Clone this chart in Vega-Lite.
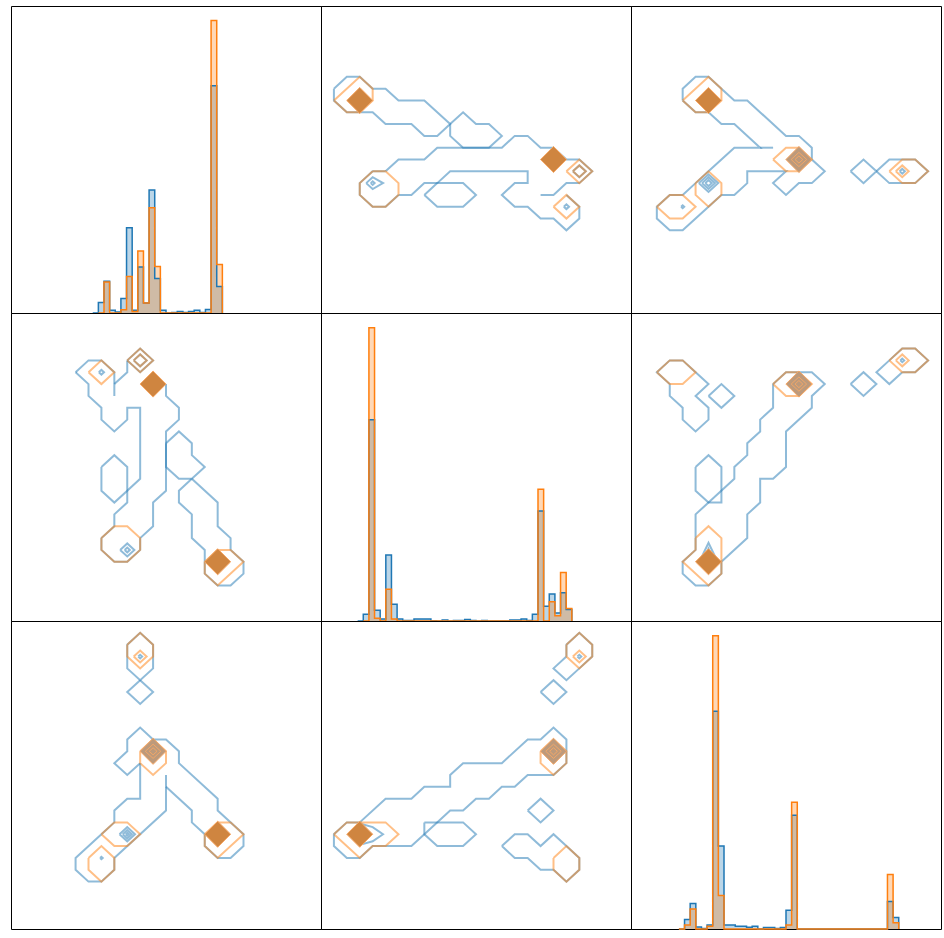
{
"$schema": "https://vega.github.io/schema/vega-lite/v6.json",
"background": "white",
"padding": {"left": 10, "top": 5, "right": 0, "bottom": 0},
"bounds": "flush",
"config": {"view": {"stroke": "black", "strokeWidth": 1}},
"datasets": {
"hist": [
{"v":"1","c":"b","b":12,"n":0},{"v":"1","c":"b","b":13,"n":3.6},{"v":"1","c":"b","b":14,"n":10.9},{"v":"1","c":"b","b":15,"n":0.9},{"v":"1","c":"b","b":16,"n":0.3},{"v":"1","c":"b","b":17,"n":5.0},{"v":"1","c":"b","b":18,"n":29.2},{"v":"1","c":"b","b":19,"n":0.9},{"v":"1","c":"b","b":20,"n":15.7},{"v":"1","c":"b","b":21,"n":3.4},{"v":"1","c":"b","b":22,"n":42.1},{"v":"1","c":"b","b":23,"n":11.8},{"v":"1","c":"b","b":24,"n":0.9},{"v":"1","c":"b","b":25,"n":0},{"v":"1","c":"b","b":26,"n":0.2},{"v":"1","c":"b","b":27,"n":0.5},{"v":"1","c":"b","b":28,"n":0.2},{"v":"1","c":"b","b":29,"n":0.5},{"v":"1","c":"b","b":30,"n":0.9},{"v":"1","c":"b","b":31,"n":0.2},{"v":"1","c":"b","b":32,"n":1.2},{"v":"1","c":"b","b":33,"n":77.7},{"v":"1","c":"b","b":34,"n":9.1},{"v":"1","c":"b","b":35,"n":0},
{"v":"1","c":"o","b":13,"n":0},{"v":"1","c":"o","b":14,"n":10.6},{"v":"1","c":"o","b":15,"n":0},{"v":"1","c":"o","b":17,"n":1.1},{"v":"1","c":"o","b":18,"n":12.5},{"v":"1","c":"o","b":19,"n":0.5},{"v":"1","c":"o","b":20,"n":21.2},{"v":"1","c":"o","b":21,"n":3.4},{"v":"1","c":"o","b":22,"n":36.0},{"v":"1","c":"o","b":23,"n":15.9},{"v":"1","c":"o","b":24,"n":0},{"v":"1","c":"o","b":33,"n":100},{"v":"1","c":"o","b":34,"n":16.6},{"v":"1","c":"o","b":35,"n":0},
{"v":"2","c":"b","b":4,"n":0},{"v":"2","c":"b","b":5,"n":2.3},{"v":"2","c":"b","b":6,"n":68.6},{"v":"2","c":"b","b":7,"n":3.7},{"v":"2","c":"b","b":8,"n":0.7},{"v":"2","c":"b","b":9,"n":22.5},{"v":"2","c":"b","b":10,"n":5.7},{"v":"2","c":"b","b":11,"n":0.7},{"v":"2","c":"b","b":12,"n":0.2},{"v":"2","c":"b","b":14,"n":0.7},{"v":"2","c":"b","b":17,"n":0.1},{"v":"2","c":"b","b":18,"n":0},{"v":"2","c":"b","b":19,"n":0.3},{"v":"2","c":"b","b":20,"n":0},{"v":"2","c":"b","b":21,"n":0.2},{"v":"2","c":"b","b":23,"n":0.5},{"v":"2","c":"b","b":24,"n":0.2},{"v":"2","c":"b","b":25,"n":0},{"v":"2","c":"b","b":26,"n":0.2},{"v":"2","c":"b","b":27,"n":0},{"v":"2","c":"b","b":31,"n":0.3},{"v":"2","c":"b","b":33,"n":0.7},{"v":"2","c":"b","b":34,"n":0.2},{"v":"2","c":"b","b":35,"n":2.3},{"v":"2","c":"b","b":36,"n":37.5},{"v":"2","c":"b","b":37,"n":5.0},{"v":"2","c":"b","b":38,"n":9.2},{"v":"2","c":"b","b":39,"n":2.7},{"v":"2","c":"b","b":40,"n":9.6},{"v":"2","c":"b","b":41,"n":3.9},{"v":"2","c":"b","b":42,"n":0},
{"v":"2","c":"o","b":5,"n":0},{"v":"2","c":"o","b":6,"n":100},{"v":"2","c":"o","b":7,"n":0.9},{"v":"2","c":"o","b":8,"n":0},{"v":"2","c":"o","b":9,"n":10.8},{"v":"2","c":"o","b":10,"n":0.7},{"v":"2","c":"o","b":11,"n":0},{"v":"2","c":"o","b":36,"n":44.9},{"v":"2","c":"o","b":37,"n":0},{"v":"2","c":"o","b":38,"n":6.6},{"v":"2","c":"o","b":39,"n":1.8},{"v":"2","c":"o","b":40,"n":16.5},{"v":"2","c":"o","b":41,"n":4.3},{"v":"2","c":"o","b":42,"n":0},
{"v":"3","c":"b","b":6,"n":0},{"v":"3","c":"b","b":7,"n":3.2},{"v":"3","c":"b","b":8,"n":8.7},{"v":"3","c":"b","b":9,"n":0.7},{"v":"3","c":"b","b":10,"n":0.2},{"v":"3","c":"b","b":11,"n":1.4},{"v":"3","c":"b","b":12,"n":74.2},{"v":"3","c":"b","b":13,"n":28.3},{"v":"3","c":"b","b":14,"n":1.4},{"v":"3","c":"b","b":16,"n":0.9},{"v":"3","c":"b","b":18,"n":0.6},{"v":"3","c":"b","b":19,"n":0.9},{"v":"3","c":"b","b":20,"n":0},{"v":"3","c":"b","b":21,"n":0.5},{"v":"3","c":"b","b":23,"n":0.2},{"v":"3","c":"b","b":24,"n":0.5},{"v":"3","c":"b","b":25,"n":6.4},{"v":"3","c":"b","b":26,"n":38.8},{"v":"3","c":"b","b":27,"n":0},{"v":"3","c":"b","b":43,"n":9.4},{"v":"3","c":"b","b":44,"n":3.9},{"v":"3","c":"b","b":45,"n":0},
{"v":"3","c":"o","b":6,"n":0},{"v":"3","c":"o","b":7,"n":1.4},{"v":"3","c":"o","b":8,"n":6.8},{"v":"3","c":"o","b":9,"n":0},{"v":"3","c":"o","b":11,"n":0.9},{"v":"3","c":"o","b":12,"n":100},{"v":"3","c":"o","b":13,"n":11.4},{"v":"3","c":"o","b":14,"n":0},{"v":"3","c":"o","b":25,"n":1.4},{"v":"3","c":"o","b":26,"n":43.2},{"v":"3","c":"o","b":27,"n":0},{"v":"3","c":"o","b":43,"n":18.6},{"v":"3","c":"o","b":44,"n":2.1},{"v":"3","c":"o","b":45,"n":0}
],
"peaks": [
{"p":"12","k":"dense","x":3,"y":8},{"p":"12","k":"dense","x":18,"y":13},
{"p":"13","k":"dense","x":6,"y":8},{"p":"13","k":"ring","x":13,"y":13},
{"p":"21","k":"dense","x":11,"y":6},{"p":"21","k":"dense","x":16,"y":21},
{"p":"23","k":"ring","x":13,"y":6},{"p":"23","k":"dense","x":6,"y":21},
{"p":"31","k":"ring","x":11,"y":11},{"p":"31","k":"dense","x":16,"y":18},
{"p":"32","k":"dense","x":3,"y":18},{"p":"32","k":"ring","x":18,"y":11}
],
"rings": [
{"p":"13","g":1,"x":12.4,"y":13},{"p":"13","g":1,"x":13,"y":12.4},{"p":"13","g":1,"x":13.6,"y":13},{"p":"13","g":1,"x":13,"y":13.6},{"p":"13","g":1,"x":12.4,"y":13},
{"p":"13","g":2,"x":12.7,"y":13},{"p":"13","g":2,"x":13,"y":12.7},{"p":"13","g":2,"x":13.3,"y":13},{"p":"13","g":2,"x":13,"y":13.3},{"p":"13","g":2,"x":12.7,"y":13},
{"p":"23","g":1,"x":12.4,"y":6},{"p":"23","g":1,"x":13,"y":5.4},{"p":"23","g":1,"x":13.6,"y":6},{"p":"23","g":1,"x":13,"y":6.6},{"p":"23","g":1,"x":12.4,"y":6},
{"p":"23","g":2,"x":12.7,"y":6},{"p":"23","g":2,"x":13,"y":5.7},{"p":"23","g":2,"x":13.3,"y":6},{"p":"23","g":2,"x":13,"y":6.3},{"p":"23","g":2,"x":12.7,"y":6},
{"p":"31","g":1,"x":10.4,"y":11},{"p":"31","g":1,"x":11,"y":10.4},{"p":"31","g":1,"x":11.6,"y":11},{"p":"31","g":1,"x":11,"y":11.6},{"p":"31","g":1,"x":10.4,"y":11},
{"p":"31","g":2,"x":10.7,"y":11},{"p":"31","g":2,"x":11,"y":10.7},{"p":"31","g":2,"x":11.3,"y":11},{"p":"31","g":2,"x":11,"y":11.3},{"p":"31","g":2,"x":10.7,"y":11},
{"p":"32","g":1,"x":17.4,"y":11},{"p":"32","g":1,"x":18,"y":10.4},{"p":"32","g":1,"x":18.6,"y":11},{"p":"32","g":1,"x":18,"y":11.6},{"p":"32","g":1,"x":17.4,"y":11},
{"p":"32","g":2,"x":17.7,"y":11},{"p":"32","g":2,"x":18,"y":10.7},{"p":"32","g":2,"x":18.3,"y":11},{"p":"32","g":2,"x":18,"y":11.3},{"p":"32","g":2,"x":17.7,"y":11}
],
"cont": [
{"p":"12","c":"b","g":1,"x":1,"y":7},{"p":"12","c":"b","g":1,"x":2,"y":6},{"p":"12","c":"b","g":1,"x":3,"y":6},{"p":"12","c":"b","g":1,"x":4,"y":7},{"p":"12","c":"b","g":1,"x":5,"y":7},{"p":"12","c":"b","g":1,"x":6,"y":8},{"p":"12","c":"b","g":1,"x":8,"y":8},{"p":"12","c":"b","g":1,"x":10,"y":10},{"p":"12","c":"b","g":1,"x":9,"y":11},{"p":"12","c":"b","g":1,"x":8,"y":11},{"p":"12","c":"b","g":1,"x":7,"y":10},{"p":"12","c":"b","g":1,"x":5,"y":10},{"p":"12","c":"b","g":1,"x":4,"y":9},{"p":"12","c":"b","g":1,"x":2,"y":9},{"p":"12","c":"b","g":1,"x":1,"y":8},{"p":"12","c":"b","g":1,"x":1,"y":7},
{"p":"12","c":"b","g":2,"x":10,"y":10},{"p":"12","c":"b","g":2,"x":11,"y":9},{"p":"12","c":"b","g":2,"x":12,"y":10},{"p":"12","c":"b","g":2,"x":13,"y":10},{"p":"12","c":"b","g":2,"x":14,"y":11},{"p":"12","c":"b","g":2,"x":13,"y":12},{"p":"12","c":"b","g":2,"x":11,"y":12},{"p":"12","c":"b","g":2,"x":10,"y":11},{"p":"12","c":"b","g":2,"x":10,"y":10},
{"p":"12","c":"b","g":3,"x":5,"y":14},{"p":"12","c":"b","g":3,"x":6,"y":13},{"p":"12","c":"b","g":3,"x":8,"y":13},{"p":"12","c":"b","g":3,"x":9,"y":12},{"p":"12","c":"b","g":3,"x":14,"y":12},{"p":"12","c":"b","g":3,"x":15,"y":11},{"p":"12","c":"b","g":3,"x":16,"y":11},{"p":"12","c":"b","g":3,"x":17,"y":12},{"p":"12","c":"b","g":3,"x":18,"y":12},{"p":"12","c":"b","g":3,"x":19,"y":13},{"p":"12","c":"b","g":3,"x":20,"y":13},{"p":"12","c":"b","g":3,"x":21,"y":14},{"p":"12","c":"b","g":3,"x":20,"y":15},{"p":"12","c":"b","g":3,"x":19,"y":15},{"p":"12","c":"b","g":3,"x":18,"y":16},{"p":"12","c":"b","g":3,"x":17,"y":16},
{"p":"12","c":"b","g":4,"x":6,"y":16},{"p":"12","c":"b","g":4,"x":7,"y":16},{"p":"12","c":"b","g":4,"x":8,"y":15},{"p":"12","c":"b","g":4,"x":9,"y":15},{"p":"12","c":"b","g":4,"x":10,"y":14},{"p":"12","c":"b","g":4,"x":16,"y":14},{"p":"12","c":"b","g":4,"x":16,"y":15},{"p":"12","c":"b","g":4,"x":15,"y":15},{"p":"12","c":"b","g":4,"x":14,"y":16},{"p":"12","c":"b","g":4,"x":15,"y":17},{"p":"12","c":"b","g":4,"x":16,"y":17},{"p":"12","c":"b","g":4,"x":17,"y":18},{"p":"12","c":"b","g":4,"x":18,"y":18},{"p":"12","c":"b","g":4,"x":19,"y":19},{"p":"12","c":"b","g":4,"x":20,"y":18},{"p":"12","c":"b","g":4,"x":20,"y":17},{"p":"12","c":"b","g":4,"x":19,"y":16},
{"p":"12","c":"b","g":5,"x":8,"y":16},{"p":"12","c":"b","g":5,"x":9,"y":15},{"p":"12","c":"b","g":5,"x":11,"y":15},{"p":"12","c":"b","g":5,"x":12,"y":16},{"p":"12","c":"b","g":5,"x":11,"y":17},{"p":"12","c":"b","g":5,"x":9,"y":17},{"p":"12","c":"b","g":5,"x":8,"y":16},
{"p":"12","c":"b","g":6,"x":6,"y":16},{"p":"12","c":"b","g":6,"x":5,"y":17},{"p":"12","c":"b","g":6,"x":4,"y":17},{"p":"12","c":"b","g":6,"x":3,"y":16},{"p":"12","c":"b","g":6,"x":3,"y":15},{"p":"12","c":"b","g":6,"x":4,"y":14},{"p":"12","c":"b","g":6,"x":5,"y":14},
{"p":"12","c":"b","g":7,"x":3.5,"y":15},{"p":"12","c":"b","g":7,"x":4,"y":14.5},{"p":"12","c":"b","g":7,"x":4.8,"y":15},{"p":"12","c":"b","g":7,"x":4,"y":15.5},{"p":"12","c":"b","g":7,"x":3.5,"y":15},
{"p":"12","c":"b","g":8,"x":3.85,"y":15},{"p":"12","c":"b","g":8,"x":4,"y":14.85},{"p":"12","c":"b","g":8,"x":4.15,"y":15},{"p":"12","c":"b","g":8,"x":4,"y":15.15},{"p":"12","c":"b","g":8,"x":3.85,"y":15},
{"p":"12","c":"b","g":9,"x":18.8,"y":17},{"p":"12","c":"b","g":9,"x":19,"y":16.8},{"p":"12","c":"b","g":9,"x":19.2,"y":17},{"p":"12","c":"b","g":9,"x":19,"y":17.2},{"p":"12","c":"b","g":9,"x":18.8,"y":17},
{"p":"12","c":"b","g":10,"x":19.5,"y":14},{"p":"12","c":"b","g":10,"x":20,"y":13.5},{"p":"12","c":"b","g":10,"x":20.5,"y":14},{"p":"12","c":"b","g":10,"x":20,"y":14.5},{"p":"12","c":"b","g":10,"x":19.5,"y":14},
{"p":"12","c":"o","g":11,"x":1,"y":8},{"p":"12","c":"o","g":11,"x":3,"y":6},{"p":"12","c":"o","g":11,"x":4,"y":7},{"p":"12","c":"o","g":11,"x":4,"y":8},{"p":"12","c":"o","g":11,"x":3,"y":9},{"p":"12","c":"o","g":11,"x":2,"y":9},{"p":"12","c":"o","g":11,"x":1,"y":8},
{"p":"12","c":"o","g":12,"x":4,"y":14},{"p":"12","c":"o","g":12,"x":5,"y":14},{"p":"12","c":"o","g":12,"x":6,"y":15},{"p":"12","c":"o","g":12,"x":6,"y":16},{"p":"12","c":"o","g":12,"x":5,"y":17},{"p":"12","c":"o","g":12,"x":4,"y":17},{"p":"12","c":"o","g":12,"x":3,"y":16},{"p":"12","c":"o","g":12,"x":3,"y":15},{"p":"12","c":"o","g":12,"x":4,"y":14},
{"p":"12","c":"o","g":13,"x":19,"y":14},{"p":"12","c":"o","g":13,"x":20,"y":13},{"p":"12","c":"o","g":13,"x":21,"y":14},{"p":"12","c":"o","g":13,"x":20,"y":15},{"p":"12","c":"o","g":13,"x":19,"y":14},
{"p":"12","c":"o","g":14,"x":19.5,"y":14},{"p":"12","c":"o","g":14,"x":20,"y":13.5},{"p":"12","c":"o","g":14,"x":20.5,"y":14},{"p":"12","c":"o","g":14,"x":20,"y":14.5},{"p":"12","c":"o","g":14,"x":19.5,"y":14},
{"p":"12","c":"o","g":15,"x":18,"y":17},{"p":"12","c":"o","g":15,"x":19,"y":16},{"p":"12","c":"o","g":15,"x":20,"y":17},{"p":"12","c":"o","g":15,"x":19,"y":18},{"p":"12","c":"o","g":15,"x":18,"y":17},

{"p":"13","c":"b","g":1,"x":4,"y":8},{"p":"13","c":"b","g":1,"x":4,"y":7},{"p":"13","c":"b","g":1,"x":5,"y":6},{"p":"13","c":"b","g":1,"x":6,"y":6},{"p":"13","c":"b","g":1,"x":7,"y":7},{"p":"13","c":"b","g":1,"x":8,"y":8},{"p":"13","c":"b","g":1,"x":9,"y":8},{"p":"13","c":"b","g":1,"x":12,"y":11},{"p":"13","c":"b","g":1,"x":13,"y":11},{"p":"13","c":"b","g":1,"x":14,"y":12},{"p":"13","c":"b","g":1,"x":14,"y":13},{"p":"13","c":"b","g":1,"x":15,"y":14},{"p":"13","c":"b","g":1,"x":14,"y":15},{"p":"13","c":"b","g":1,"x":13,"y":15},{"p":"13","c":"b","g":1,"x":12,"y":16},{"p":"13","c":"b","g":1,"x":11,"y":15},{"p":"13","c":"b","g":1,"x":12,"y":14},{"p":"13","c":"b","g":1,"x":9,"y":14},{"p":"13","c":"b","g":1,"x":9,"y":15},{"p":"13","c":"b","g":1,"x":8,"y":16},{"p":"13","c":"b","g":1,"x":7,"y":16},{"p":"13","c":"b","g":1,"x":6,"y":17},{"p":"13","c":"b","g":1,"x":4,"y":19},{"p":"13","c":"b","g":1,"x":3,"y":19},{"p":"13","c":"b","g":1,"x":2,"y":18},{"p":"13","c":"b","g":1,"x":2,"y":17},{"p":"13","c":"b","g":1,"x":3,"y":16},{"p":"13","c":"b","g":1,"x":4,"y":16},{"p":"13","c":"b","g":1,"x":5,"y":15},{"p":"13","c":"b","g":1,"x":6,"y":14},{"p":"13","c":"b","g":1,"x":8,"y":12},{"p":"13","c":"b","g":1,"x":10,"y":12},{"p":"13","c":"b","g":1,"x":8,"y":10},{"p":"13","c":"b","g":1,"x":7,"y":10},{"p":"13","c":"b","g":1,"x":6,"y":9},{"p":"13","c":"b","g":1,"x":5,"y":9},{"p":"13","c":"b","g":1,"x":4,"y":8},
{"p":"13","c":"b","g":2,"x":10,"y":12},{"p":"13","c":"b","g":2,"x":11,"y":12},
{"p":"13","c":"b","g":3,"x":17,"y":14},{"p":"13","c":"b","g":3,"x":18,"y":13},{"p":"13","c":"b","g":3,"x":19,"y":14},{"p":"13","c":"b","g":3,"x":18,"y":15},{"p":"13","c":"b","g":3,"x":17,"y":14},
{"p":"13","c":"b","g":4,"x":19,"y":14},{"p":"13","c":"b","g":4,"x":20,"y":13},{"p":"13","c":"b","g":4,"x":22,"y":13},{"p":"13","c":"b","g":4,"x":23,"y":14},{"p":"13","c":"b","g":4,"x":22,"y":15},{"p":"13","c":"b","g":4,"x":20,"y":15},{"p":"13","c":"b","g":4,"x":19,"y":14},
{"p":"13","c":"b","g":5,"x":5.25,"y":15},{"p":"13","c":"b","g":5,"x":6,"y":14.25},{"p":"13","c":"b","g":5,"x":6.75,"y":15},{"p":"13","c":"b","g":5,"x":6,"y":15.75},{"p":"13","c":"b","g":5,"x":5.25,"y":15},
{"p":"13","c":"b","g":6,"x":5.5,"y":15},{"p":"13","c":"b","g":6,"x":6,"y":14.5},{"p":"13","c":"b","g":6,"x":6.5,"y":15},{"p":"13","c":"b","g":6,"x":6,"y":15.5},{"p":"13","c":"b","g":6,"x":5.5,"y":15},
{"p":"13","c":"b","g":7,"x":5.75,"y":15},{"p":"13","c":"b","g":7,"x":6,"y":14.75},{"p":"13","c":"b","g":7,"x":6.25,"y":15},{"p":"13","c":"b","g":7,"x":6,"y":15.25},{"p":"13","c":"b","g":7,"x":5.75,"y":15},
{"p":"13","c":"b","g":9,"x":20.8,"y":14},{"p":"13","c":"b","g":9,"x":21,"y":13.8},{"p":"13","c":"b","g":9,"x":21.2,"y":14},{"p":"13","c":"b","g":9,"x":21,"y":14.2},{"p":"13","c":"b","g":9,"x":20.8,"y":14},
{"p":"13","c":"b","g":10,"x":3.88,"y":17},{"p":"13","c":"b","g":10,"x":4,"y":16.88},{"p":"13","c":"b","g":10,"x":4.12,"y":17},{"p":"13","c":"b","g":10,"x":4,"y":17.12},{"p":"13","c":"b","g":10,"x":3.88,"y":17},
{"p":"13","c":"o","g":11,"x":4,"y":8},{"p":"13","c":"o","g":11,"x":6,"y":6},{"p":"13","c":"o","g":11,"x":7,"y":7},{"p":"13","c":"o","g":11,"x":7,"y":8},{"p":"13","c":"o","g":11,"x":6,"y":9},{"p":"13","c":"o","g":11,"x":5,"y":9},{"p":"13","c":"o","g":11,"x":4,"y":8},
{"p":"13","c":"o","g":12,"x":11,"y":13},{"p":"13","c":"o","g":12,"x":12,"y":12},{"p":"13","c":"o","g":12,"x":13,"y":12},{"p":"13","c":"o","g":12,"x":14,"y":13},{"p":"13","c":"o","g":12,"x":13,"y":14},{"p":"13","c":"o","g":12,"x":12,"y":14},{"p":"13","c":"o","g":12,"x":11,"y":13},
{"p":"13","c":"o","g":13,"x":2,"y":17},{"p":"13","c":"o","g":13,"x":3,"y":16},{"p":"13","c":"o","g":13,"x":4,"y":16},{"p":"13","c":"o","g":13,"x":5,"y":17},{"p":"13","c":"o","g":13,"x":4,"y":18},{"p":"13","c":"o","g":13,"x":3,"y":18},{"p":"13","c":"o","g":13,"x":2,"y":17},
{"p":"13","c":"o","g":14,"x":5,"y":15},{"p":"13","c":"o","g":14,"x":6,"y":14},{"p":"13","c":"o","g":14,"x":7,"y":15},{"p":"13","c":"o","g":14,"x":7,"y":16},{"p":"13","c":"o","g":14,"x":6,"y":17},{"p":"13","c":"o","g":14,"x":5,"y":16},{"p":"13","c":"o","g":14,"x":5,"y":15},
{"p":"13","c":"o","g":15,"x":20,"y":14},{"p":"13","c":"o","g":15,"x":21,"y":13},{"p":"13","c":"o","g":15,"x":22,"y":13},{"p":"13","c":"o","g":15,"x":23,"y":14},{"p":"13","c":"o","g":15,"x":22,"y":15},{"p":"13","c":"o","g":15,"x":21,"y":15},{"p":"13","c":"o","g":15,"x":20,"y":14},
{"p":"13","c":"o","g":16,"x":20.5,"y":14},{"p":"13","c":"o","g":16,"x":21,"y":13.5},{"p":"13","c":"o","g":16,"x":21.5,"y":14},{"p":"13","c":"o","g":16,"x":21,"y":14.5},{"p":"13","c":"o","g":16,"x":20.5,"y":14},

{"p":"21","c":"b","g":1,"x":5,"y":5},{"p":"21","c":"b","g":1,"x":6,"y":4},{"p":"21","c":"b","g":1,"x":7,"y":4},{"p":"21","c":"b","g":1,"x":8,"y":5},{"p":"21","c":"b","g":1,"x":8,"y":7},
{"p":"21","c":"b","g":2,"x":8,"y":6},{"p":"21","c":"b","g":2,"x":9,"y":5},{"p":"21","c":"b","g":2,"x":9,"y":4},
{"p":"21","c":"b","g":3,"x":9,"y":4},{"p":"21","c":"b","g":3,"x":10,"y":3},{"p":"21","c":"b","g":3,"x":11,"y":4},{"p":"21","c":"b","g":3,"x":10,"y":5},{"p":"21","c":"b","g":3,"x":9,"y":4},
{"p":"21","c":"b","g":4,"x":5,"y":5},{"p":"21","c":"b","g":4,"x":6,"y":6},{"p":"21","c":"b","g":4,"x":6,"y":7},{"p":"21","c":"b","g":4,"x":7,"y":8},{"p":"21","c":"b","g":4,"x":7,"y":9},{"p":"21","c":"b","g":4,"x":8,"y":10},{"p":"21","c":"b","g":4,"x":9,"y":9},{"p":"21","c":"b","g":4,"x":9,"y":8},{"p":"21","c":"b","g":4,"x":10,"y":8},{"p":"21","c":"b","g":4,"x":10,"y":14},{"p":"21","c":"b","g":4,"x":9,"y":15},{"p":"21","c":"b","g":4,"x":9,"y":16},{"p":"21","c":"b","g":4,"x":8,"y":17},{"p":"21","c":"b","g":4,"x":8,"y":18},{"p":"21","c":"b","g":4,"x":7,"y":19},{"p":"21","c":"b","g":4,"x":7,"y":20},{"p":"21","c":"b","g":4,"x":8,"y":21},{"p":"21","c":"b","g":4,"x":9,"y":21},{"p":"21","c":"b","g":4,"x":10,"y":20},{"p":"21","c":"b","g":4,"x":10,"y":19},{"p":"21","c":"b","g":4,"x":11,"y":18},{"p":"21","c":"b","g":4,"x":11,"y":16},{"p":"21","c":"b","g":4,"x":12,"y":15},{"p":"21","c":"b","g":4,"x":12,"y":10},{"p":"21","c":"b","g":4,"x":13,"y":9},{"p":"21","c":"b","g":4,"x":13,"y":8},{"p":"21","c":"b","g":4,"x":12,"y":7},{"p":"21","c":"b","g":4,"x":12,"y":6},
{"p":"21","c":"b","g":5,"x":7,"y":13},{"p":"21","c":"b","g":5,"x":8,"y":12},{"p":"21","c":"b","g":5,"x":9,"y":13},{"p":"21","c":"b","g":5,"x":9,"y":15},{"p":"21","c":"b","g":5,"x":8,"y":16},{"p":"21","c":"b","g":5,"x":7,"y":15},{"p":"21","c":"b","g":5,"x":7,"y":13},
{"p":"21","c":"b","g":6,"x":12,"y":11},{"p":"21","c":"b","g":6,"x":13,"y":10},{"p":"21","c":"b","g":6,"x":14,"y":11},{"p":"21","c":"b","g":6,"x":14,"y":12},{"p":"21","c":"b","g":6,"x":15,"y":13},{"p":"21","c":"b","g":6,"x":14,"y":14},{"p":"21","c":"b","g":6,"x":13,"y":14},{"p":"21","c":"b","g":6,"x":12,"y":13},{"p":"21","c":"b","g":6,"x":12,"y":11},
{"p":"21","c":"b","g":7,"x":14,"y":14},{"p":"21","c":"b","g":7,"x":16,"y":16},{"p":"21","c":"b","g":7,"x":16,"y":18},{"p":"21","c":"b","g":7,"x":17,"y":19},{"p":"21","c":"b","g":7,"x":17,"y":20},{"p":"21","c":"b","g":7,"x":18,"y":21},{"p":"21","c":"b","g":7,"x":18,"y":22},{"p":"21","c":"b","g":7,"x":17,"y":23},{"p":"21","c":"b","g":7,"x":16,"y":23},{"p":"21","c":"b","g":7,"x":15,"y":22},{"p":"21","c":"b","g":7,"x":15,"y":20},{"p":"21","c":"b","g":7,"x":14,"y":19},{"p":"21","c":"b","g":7,"x":14,"y":17},{"p":"21","c":"b","g":7,"x":13,"y":16},{"p":"21","c":"b","g":7,"x":13,"y":15},{"p":"21","c":"b","g":7,"x":14,"y":14},
{"p":"21","c":"b","g":8,"x":8.45,"y":20},{"p":"21","c":"b","g":8,"x":9,"y":19.45},{"p":"21","c":"b","g":8,"x":9.55,"y":20},{"p":"21","c":"b","g":8,"x":9,"y":20.55},{"p":"21","c":"b","g":8,"x":8.45,"y":20},
{"p":"21","c":"b","g":9,"x":8.8,"y":20},{"p":"21","c":"b","g":9,"x":9,"y":19.8},{"p":"21","c":"b","g":9,"x":9.2,"y":20},{"p":"21","c":"b","g":9,"x":9,"y":20.2},{"p":"21","c":"b","g":9,"x":8.8,"y":20},
{"p":"21","c":"b","g":10,"x":6.8,"y":5},{"p":"21","c":"b","g":10,"x":7,"y":4.8},{"p":"21","c":"b","g":10,"x":7.2,"y":5},{"p":"21","c":"b","g":10,"x":7,"y":5.2},{"p":"21","c":"b","g":10,"x":6.8,"y":5},
{"p":"21","c":"b","g":11,"x":9.5,"y":4},{"p":"21","c":"b","g":11,"x":10,"y":3.5},{"p":"21","c":"b","g":11,"x":10.5,"y":4},{"p":"21","c":"b","g":11,"x":10,"y":4.5},{"p":"21","c":"b","g":11,"x":9.5,"y":4},
{"p":"21","c":"o","g":12,"x":6,"y":5},{"p":"21","c":"o","g":12,"x":7,"y":4},{"p":"21","c":"o","g":12,"x":8,"y":5},{"p":"21","c":"o","g":12,"x":7,"y":6},{"p":"21","c":"o","g":12,"x":6,"y":5},
{"p":"21","c":"o","g":13,"x":9,"y":4},{"p":"21","c":"o","g":13,"x":10,"y":3},{"p":"21","c":"o","g":13,"x":11,"y":4},{"p":"21","c":"o","g":13,"x":10,"y":5},{"p":"21","c":"o","g":13,"x":9,"y":4},
{"p":"21","c":"o","g":14,"x":9.5,"y":4},{"p":"21","c":"o","g":14,"x":10,"y":3.5},{"p":"21","c":"o","g":14,"x":10.5,"y":4},{"p":"21","c":"o","g":14,"x":10,"y":4.5},{"p":"21","c":"o","g":14,"x":9.5,"y":4},
{"p":"21","c":"o","g":15,"x":7,"y":19},{"p":"21","c":"o","g":15,"x":8,"y":18},{"p":"21","c":"o","g":15,"x":9,"y":18},{"p":"21","c":"o","g":15,"x":10,"y":19},{"p":"21","c":"o","g":15,"x":10,"y":20},{"p":"21","c":"o","g":15,"x":9,"y":21},{"p":"21","c":"o","g":15,"x":8,"y":21},{"p":"21","c":"o","g":15,"x":7,"y":20},{"p":"21","c":"o","g":15,"x":7,"y":19},
{"p":"21","c":"o","g":16,"x":15,"y":21},{"p":"21","c":"o","g":16,"x":16,"y":20},{"p":"21","c":"o","g":16,"x":17,"y":20},{"p":"21","c":"o","g":16,"x":18,"y":21},{"p":"21","c":"o","g":16,"x":16,"y":23},{"p":"21","c":"o","g":16,"x":15,"y":22},{"p":"21","c":"o","g":16,"x":15,"y":21},

{"p":"23","c":"b","g":1,"x":5,"y":5},{"p":"23","c":"b","g":1,"x":4,"y":4},{"p":"23","c":"b","g":1,"x":3,"y":4},{"p":"23","c":"b","g":1,"x":2,"y":5},{"p":"23","c":"b","g":1,"x":3,"y":6},{"p":"23","c":"b","g":1,"x":3,"y":7},{"p":"23","c":"b","g":1,"x":4,"y":8},{"p":"23","c":"b","g":1,"x":4,"y":9},{"p":"23","c":"b","g":1,"x":5,"y":10},{"p":"23","c":"b","g":1,"x":6,"y":9},{"p":"23","c":"b","g":1,"x":6,"y":8},{"p":"23","c":"b","g":1,"x":5,"y":7},{"p":"23","c":"b","g":1,"x":6,"y":6},{"p":"23","c":"b","g":1,"x":5,"y":5},
{"p":"23","c":"b","g":2,"x":6,"y":7},{"p":"23","c":"b","g":2,"x":7,"y":6},{"p":"23","c":"b","g":2,"x":8,"y":7},{"p":"23","c":"b","g":2,"x":7,"y":8},{"p":"23","c":"b","g":2,"x":6,"y":7},
{"p":"23","c":"b","g":3,"x":17,"y":6},{"p":"23","c":"b","g":3,"x":18,"y":5},{"p":"23","c":"b","g":3,"x":19,"y":6},{"p":"23","c":"b","g":3,"x":18,"y":7},{"p":"23","c":"b","g":3,"x":17,"y":6},
{"p":"23","c":"b","g":4,"x":21,"y":5},{"p":"23","c":"b","g":4,"x":20,"y":6},{"p":"23","c":"b","g":4,"x":19,"y":5},{"p":"23","c":"b","g":4,"x":20,"y":4},{"p":"23","c":"b","g":4,"x":21,"y":3},{"p":"23","c":"b","g":4,"x":22,"y":3},{"p":"23","c":"b","g":4,"x":23,"y":4},{"p":"23","c":"b","g":4,"x":22,"y":5},{"p":"23","c":"b","g":4,"x":21,"y":5},
{"p":"23","c":"b","g":5,"x":5,"y":13},{"p":"23","c":"b","g":5,"x":6,"y":12},{"p":"23","c":"b","g":5,"x":7,"y":13},{"p":"23","c":"b","g":5,"x":7,"y":16},{"p":"23","c":"b","g":5,"x":6,"y":16},{"p":"23","c":"b","g":5,"x":5,"y":15},{"p":"23","c":"b","g":5,"x":5,"y":13},
{"p":"23","c":"b","g":6,"x":5,"y":19},{"p":"23","c":"b","g":6,"x":5,"y":20},{"p":"23","c":"b","g":6,"x":4,"y":21},{"p":"23","c":"b","g":6,"x":4,"y":22},{"p":"23","c":"b","g":6,"x":5,"y":23},{"p":"23","c":"b","g":6,"x":6,"y":23},{"p":"23","c":"b","g":6,"x":7,"y":22},{"p":"23","c":"b","g":6,"x":7,"y":21},{"p":"23","c":"b","g":6,"x":9,"y":19},{"p":"23","c":"b","g":6,"x":9,"y":17},{"p":"23","c":"b","g":6,"x":10,"y":16},{"p":"23","c":"b","g":6,"x":10,"y":14},{"p":"23","c":"b","g":6,"x":11,"y":14},{"p":"23","c":"b","g":6,"x":12,"y":13},{"p":"23","c":"b","g":6,"x":12,"y":10},{"p":"23","c":"b","g":6,"x":14,"y":8},{"p":"23","c":"b","g":6,"x":14,"y":7},{"p":"23","c":"b","g":6,"x":15,"y":6},{"p":"23","c":"b","g":6,"x":14,"y":5},{"p":"23","c":"b","g":6,"x":12,"y":5},{"p":"23","c":"b","g":6,"x":11,"y":6},{"p":"23","c":"b","g":6,"x":11,"y":8},{"p":"23","c":"b","g":6,"x":10,"y":9},{"p":"23","c":"b","g":6,"x":10,"y":10},{"p":"23","c":"b","g":6,"x":9,"y":11},{"p":"23","c":"b","g":6,"x":9,"y":12},{"p":"23","c":"b","g":6,"x":8,"y":13},{"p":"23","c":"b","g":6,"x":8,"y":14},{"p":"23","c":"b","g":6,"x":5,"y":17},{"p":"23","c":"b","g":6,"x":5,"y":19},
{"p":"23","c":"b","g":7,"x":5.3,"y":21},{"p":"23","c":"b","g":7,"x":6,"y":19.4},{"p":"23","c":"b","g":7,"x":6.7,"y":21},
{"p":"23","c":"b","g":8,"x":5.6,"y":21},{"p":"23","c":"b","g":8,"x":6,"y":19.9},{"p":"23","c":"b","g":8,"x":6.4,"y":21},
{"p":"23","c":"b","g":9,"x":20.85,"y":4},{"p":"23","c":"b","g":9,"x":21,"y":3.85},{"p":"23","c":"b","g":9,"x":21.15,"y":4},{"p":"23","c":"b","g":9,"x":21,"y":4.15},{"p":"23","c":"b","g":9,"x":20.85,"y":4},
{"p":"23","c":"o","g":10,"x":2,"y":5},{"p":"23","c":"o","g":10,"x":3,"y":4},{"p":"23","c":"o","g":10,"x":4,"y":4},{"p":"23","c":"o","g":10,"x":5,"y":5},{"p":"23","c":"o","g":10,"x":4,"y":6},{"p":"23","c":"o","g":10,"x":3,"y":6},{"p":"23","c":"o","g":10,"x":2,"y":5},
{"p":"23","c":"o","g":11,"x":20,"y":4},{"p":"23","c":"o","g":11,"x":21,"y":3},{"p":"23","c":"o","g":11,"x":22,"y":3},{"p":"23","c":"o","g":11,"x":23,"y":4},{"p":"23","c":"o","g":11,"x":22,"y":5},{"p":"23","c":"o","g":11,"x":21,"y":5},{"p":"23","c":"o","g":11,"x":20,"y":4},
{"p":"23","c":"o","g":12,"x":20.5,"y":4},{"p":"23","c":"o","g":12,"x":21,"y":3.5},{"p":"23","c":"o","g":12,"x":21.5,"y":4},{"p":"23","c":"o","g":12,"x":21,"y":4.5},{"p":"23","c":"o","g":12,"x":20.5,"y":4},
{"p":"23","c":"o","g":13,"x":11,"y":6},{"p":"23","c":"o","g":13,"x":12,"y":5},{"p":"23","c":"o","g":13,"x":13,"y":5},{"p":"23","c":"o","g":13,"x":14,"y":6},{"p":"23","c":"o","g":13,"x":13,"y":7},{"p":"23","c":"o","g":13,"x":12,"y":7},{"p":"23","c":"o","g":13,"x":11,"y":6},
{"p":"23","c":"o","g":14,"x":5,"y":19},{"p":"23","c":"o","g":14,"x":6,"y":18},{"p":"23","c":"o","g":14,"x":7,"y":19},{"p":"23","c":"o","g":14,"x":7,"y":22},{"p":"23","c":"o","g":14,"x":6,"y":23},{"p":"23","c":"o","g":14,"x":4,"y":21},{"p":"23","c":"o","g":14,"x":5,"y":20},{"p":"23","c":"o","g":14,"x":5,"y":19},

{"p":"31","c":"b","g":1,"x":9,"y":3},{"p":"31","c":"b","g":1,"x":9,"y":2},{"p":"31","c":"b","g":1,"x":10,"y":1},{"p":"31","c":"b","g":1,"x":11,"y":2},{"p":"31","c":"b","g":1,"x":11,"y":3},{"p":"31","c":"b","g":1,"x":11,"y":4},{"p":"31","c":"b","g":1,"x":10,"y":5},{"p":"31","c":"b","g":1,"x":9,"y":4},{"p":"31","c":"b","g":1,"x":9,"y":3},
{"p":"31","c":"b","g":2,"x":10,"y":5},{"p":"31","c":"b","g":2,"x":9,"y":6},{"p":"31","c":"b","g":2,"x":10,"y":7},{"p":"31","c":"b","g":2,"x":11,"y":6},{"p":"31","c":"b","g":2,"x":10,"y":5},
{"p":"31","c":"b","g":3,"x":10,"y":12},{"p":"31","c":"b","g":3,"x":10,"y":15},{"p":"31","c":"b","g":3,"x":9,"y":15},{"p":"31","c":"b","g":3,"x":8,"y":16},{"p":"31","c":"b","g":3,"x":8,"y":17},{"p":"31","c":"b","g":3,"x":7,"y":18},{"p":"31","c":"b","g":3,"x":5,"y":20},{"p":"31","c":"b","g":3,"x":5,"y":21},{"p":"31","c":"b","g":3,"x":6,"y":22},{"p":"31","c":"b","g":3,"x":7,"y":22},{"p":"31","c":"b","g":3,"x":8,"y":21},{"p":"31","c":"b","g":3,"x":8,"y":20},{"p":"31","c":"b","g":3,"x":12,"y":16},{"p":"31","c":"b","g":3,"x":12,"y":13},
{"p":"31","c":"b","g":4,"x":10,"y":12},{"p":"31","c":"b","g":4,"x":9,"y":13},{"p":"31","c":"b","g":4,"x":8,"y":12},{"p":"31","c":"b","g":4,"x":9,"y":11},{"p":"31","c":"b","g":4,"x":9,"y":10},{"p":"31","c":"b","g":4,"x":10,"y":9},{"p":"31","c":"b","g":4,"x":11,"y":10},{"p":"31","c":"b","g":4,"x":12,"y":10},{"p":"31","c":"b","g":4,"x":13,"y":11},{"p":"31","c":"b","g":4,"x":13,"y":12},{"p":"31","c":"b","g":4,"x":16,"y":15},{"p":"31","c":"b","g":4,"x":16,"y":16},{"p":"31","c":"b","g":4,"x":18,"y":18},{"p":"31","c":"b","g":4,"x":18,"y":19},{"p":"31","c":"b","g":4,"x":17,"y":20},{"p":"31","c":"b","g":4,"x":16,"y":20},{"p":"31","c":"b","g":4,"x":15,"y":19},{"p":"31","c":"b","g":4,"x":15,"y":18},{"p":"31","c":"b","g":4,"x":14,"y":17},{"p":"31","c":"b","g":4,"x":14,"y":16},{"p":"31","c":"b","g":4,"x":12,"y":14},
{"p":"31","c":"b","g":5,"x":8.4,"y":18},{"p":"31","c":"b","g":5,"x":9,"y":17.4},{"p":"31","c":"b","g":5,"x":9.6,"y":18},{"p":"31","c":"b","g":5,"x":9,"y":18.6},{"p":"31","c":"b","g":5,"x":8.4,"y":18},
{"p":"31","c":"b","g":6,"x":8.65,"y":18},{"p":"31","c":"b","g":6,"x":9,"y":17.65},{"p":"31","c":"b","g":6,"x":9.35,"y":18},{"p":"31","c":"b","g":6,"x":9,"y":18.35},{"p":"31","c":"b","g":6,"x":8.65,"y":18},
{"p":"31","c":"b","g":7,"x":8.88,"y":18},{"p":"31","c":"b","g":7,"x":9,"y":17.88},{"p":"31","c":"b","g":7,"x":9.12,"y":18},{"p":"31","c":"b","g":7,"x":9,"y":18.12},{"p":"31","c":"b","g":7,"x":8.88,"y":18},
{"p":"31","c":"b","g":8,"x":9.85,"y":3},{"p":"31","c":"b","g":8,"x":10,"y":2.85},{"p":"31","c":"b","g":8,"x":10.15,"y":3},{"p":"31","c":"b","g":8,"x":10,"y":3.15},{"p":"31","c":"b","g":8,"x":9.85,"y":3},
{"p":"31","c":"b","g":9,"x":6.9,"y":20},{"p":"31","c":"b","g":9,"x":7,"y":19.9},{"p":"31","c":"b","g":9,"x":7.1,"y":20},{"p":"31","c":"b","g":9,"x":7,"y":20.1},{"p":"31","c":"b","g":9,"x":6.9,"y":20},
{"p":"31","c":"o","g":10,"x":9,"y":2},{"p":"31","c":"o","g":10,"x":10,"y":1},{"p":"31","c":"o","g":10,"x":11,"y":2},{"p":"31","c":"o","g":10,"x":11,"y":3},{"p":"31","c":"o","g":10,"x":10,"y":4},{"p":"31","c":"o","g":10,"x":9,"y":3},{"p":"31","c":"o","g":10,"x":9,"y":2},
{"p":"31","c":"o","g":11,"x":9.5,"y":3},{"p":"31","c":"o","g":11,"x":10,"y":2.5},{"p":"31","c":"o","g":11,"x":10.5,"y":3},{"p":"31","c":"o","g":11,"x":10,"y":3.5},{"p":"31","c":"o","g":11,"x":9.5,"y":3},
{"p":"31","c":"o","g":12,"x":10,"y":11},{"p":"31","c":"o","g":12,"x":11,"y":10},{"p":"31","c":"o","g":12,"x":12,"y":11},{"p":"31","c":"o","g":12,"x":12,"y":12},{"p":"31","c":"o","g":12,"x":11,"y":13},{"p":"31","c":"o","g":12,"x":10,"y":12},{"p":"31","c":"o","g":12,"x":10,"y":11},
{"p":"31","c":"o","g":13,"x":7,"y":18},{"p":"31","c":"o","g":13,"x":8,"y":17},{"p":"31","c":"o","g":13,"x":9,"y":17},{"p":"31","c":"o","g":13,"x":10,"y":18},{"p":"31","c":"o","g":13,"x":9,"y":19},{"p":"31","c":"o","g":13,"x":8,"y":19},{"p":"31","c":"o","g":13,"x":7,"y":18},
{"p":"31","c":"o","g":14,"x":6,"y":20},{"p":"31","c":"o","g":14,"x":7,"y":19},{"p":"31","c":"o","g":14,"x":8,"y":20},{"p":"31","c":"o","g":14,"x":8,"y":21},{"p":"31","c":"o","g":14,"x":7,"y":22},{"p":"31","c":"o","g":14,"x":6,"y":21},{"p":"31","c":"o","g":14,"x":6,"y":20},
{"p":"31","c":"o","g":15,"x":15,"y":18},{"p":"31","c":"o","g":15,"x":16,"y":17},{"p":"31","c":"o","g":15,"x":17,"y":17},{"p":"31","c":"o","g":15,"x":18,"y":18},{"p":"31","c":"o","g":15,"x":16,"y":20},{"p":"31","c":"o","g":15,"x":15,"y":19},{"p":"31","c":"o","g":15,"x":15,"y":18},

{"p":"32","c":"b","g":1,"x":19,"y":3},{"p":"32","c":"b","g":1,"x":19,"y":2},{"p":"32","c":"b","g":1,"x":20,"y":1},{"p":"32","c":"b","g":1,"x":21,"y":2},{"p":"32","c":"b","g":1,"x":21,"y":3},{"p":"32","c":"b","g":1,"x":20,"y":4},{"p":"32","c":"b","g":1,"x":19,"y":5},{"p":"32","c":"b","g":1,"x":18,"y":4},{"p":"32","c":"b","g":1,"x":19,"y":3},
{"p":"32","c":"b","g":2,"x":17,"y":6},{"p":"32","c":"b","g":2,"x":18,"y":5},{"p":"32","c":"b","g":2,"x":19,"y":6},{"p":"32","c":"b","g":2,"x":18,"y":7},{"p":"32","c":"b","g":2,"x":17,"y":6},
{"p":"32","c":"b","g":3,"x":3,"y":17},{"p":"32","c":"b","g":3,"x":5,"y":15},{"p":"32","c":"b","g":3,"x":7,"y":15},{"p":"32","c":"b","g":3,"x":8,"y":14},{"p":"32","c":"b","g":3,"x":10,"y":14},{"p":"32","c":"b","g":3,"x":10,"y":13},{"p":"32","c":"b","g":3,"x":11,"y":12},{"p":"32","c":"b","g":3,"x":14,"y":12},{"p":"32","c":"b","g":3,"x":16,"y":10},{"p":"32","c":"b","g":3,"x":17,"y":10},{"p":"32","c":"b","g":3,"x":18,"y":9},{"p":"32","c":"b","g":3,"x":19,"y":10},{"p":"32","c":"b","g":3,"x":19,"y":12},{"p":"32","c":"b","g":3,"x":18,"y":13},{"p":"32","c":"b","g":3,"x":16,"y":13},{"p":"32","c":"b","g":3,"x":15,"y":14},{"p":"32","c":"b","g":3,"x":14,"y":14},{"p":"32","c":"b","g":3,"x":13,"y":15},{"p":"32","c":"b","g":3,"x":12,"y":15},{"p":"32","c":"b","g":3,"x":11,"y":16},{"p":"32","c":"b","g":3,"x":10,"y":16},{"p":"32","c":"b","g":3,"x":8,"y":18},{"p":"32","c":"b","g":3,"x":7,"y":19},{"p":"32","c":"b","g":3,"x":5,"y":19},{"p":"32","c":"b","g":3,"x":4,"y":19},{"p":"32","c":"b","g":3,"x":3,"y":20},{"p":"32","c":"b","g":3,"x":2,"y":20},{"p":"32","c":"b","g":3,"x":1,"y":19},{"p":"32","c":"b","g":3,"x":1,"y":18},{"p":"32","c":"b","g":3,"x":2,"y":17},{"p":"32","c":"b","g":3,"x":3,"y":17},
{"p":"32","c":"b","g":4,"x":8,"y":17},{"p":"32","c":"b","g":4,"x":11,"y":17},{"p":"32","c":"b","g":4,"x":12,"y":18},{"p":"32","c":"b","g":4,"x":11,"y":19},{"p":"32","c":"b","g":4,"x":9,"y":19},{"p":"32","c":"b","g":4,"x":8,"y":18},{"p":"32","c":"b","g":4,"x":8,"y":17},
{"p":"32","c":"b","g":5,"x":16,"y":16},{"p":"32","c":"b","g":5,"x":17,"y":15},{"p":"32","c":"b","g":5,"x":18,"y":16},{"p":"32","c":"b","g":5,"x":17,"y":17},{"p":"32","c":"b","g":5,"x":16,"y":16},
{"p":"32","c":"b","g":6,"x":14,"y":19},{"p":"32","c":"b","g":6,"x":15,"y":18},{"p":"32","c":"b","g":6,"x":16,"y":18},{"p":"32","c":"b","g":6,"x":17,"y":19},{"p":"32","c":"b","g":6,"x":18,"y":18},{"p":"32","c":"b","g":6,"x":19,"y":19},{"p":"32","c":"b","g":6,"x":20,"y":20},{"p":"32","c":"b","g":6,"x":20,"y":21},{"p":"32","c":"b","g":6,"x":19,"y":22},{"p":"32","c":"b","g":6,"x":18,"y":21},{"p":"32","c":"b","g":6,"x":17,"y":21},{"p":"32","c":"b","g":6,"x":16,"y":20},{"p":"32","c":"b","g":6,"x":15,"y":20},{"p":"32","c":"b","g":6,"x":14,"y":19},
{"p":"32","c":"b","g":7,"x":3,"y":17.1},{"p":"32","c":"b","g":7,"x":4,"y":17.4},{"p":"32","c":"b","g":7,"x":4.8,"y":18},{"p":"32","c":"b","g":7,"x":4,"y":18.6},{"p":"32","c":"b","g":7,"x":3,"y":18.9},
{"p":"32","c":"b","g":8,"x":19.85,"y":3},{"p":"32","c":"b","g":8,"x":20,"y":2.85},{"p":"32","c":"b","g":8,"x":20.15,"y":3},{"p":"32","c":"b","g":8,"x":20,"y":3.15},{"p":"32","c":"b","g":8,"x":19.85,"y":3},
{"p":"32","c":"o","g":9,"x":19,"y":2},{"p":"32","c":"o","g":9,"x":20,"y":1},{"p":"32","c":"o","g":9,"x":21,"y":2},{"p":"32","c":"o","g":9,"x":21,"y":3},{"p":"32","c":"o","g":9,"x":20,"y":4},{"p":"32","c":"o","g":9,"x":19,"y":3},{"p":"32","c":"o","g":9,"x":19,"y":2},
{"p":"32","c":"o","g":10,"x":19.5,"y":3},{"p":"32","c":"o","g":10,"x":20,"y":2.5},{"p":"32","c":"o","g":10,"x":20.5,"y":3},{"p":"32","c":"o","g":10,"x":20,"y":3.5},{"p":"32","c":"o","g":10,"x":19.5,"y":3},
{"p":"32","c":"o","g":11,"x":17,"y":11},{"p":"32","c":"o","g":11,"x":18,"y":10},{"p":"32","c":"o","g":11,"x":19,"y":11},{"p":"32","c":"o","g":11,"x":19,"y":12},{"p":"32","c":"o","g":11,"x":18,"y":13},{"p":"32","c":"o","g":11,"x":17,"y":12},{"p":"32","c":"o","g":11,"x":17,"y":11},
{"p":"32","c":"o","g":12,"x":1,"y":18},{"p":"32","c":"o","g":12,"x":2,"y":17},{"p":"32","c":"o","g":12,"x":3,"y":17},{"p":"32","c":"o","g":12,"x":5,"y":17},{"p":"32","c":"o","g":12,"x":6,"y":18},{"p":"32","c":"o","g":12,"x":5,"y":19},{"p":"32","c":"o","g":12,"x":4,"y":19},{"p":"32","c":"o","g":12,"x":3,"y":20},{"p":"32","c":"o","g":12,"x":1,"y":18},
{"p":"32","c":"o","g":13,"x":18,"y":20},{"p":"32","c":"o","g":13,"x":19,"y":19},{"p":"32","c":"o","g":13,"x":20,"y":20},{"p":"32","c":"o","g":13,"x":20,"y":21},{"p":"32","c":"o","g":13,"x":19,"y":22},{"p":"32","c":"o","g":13,"x":18,"y":21},{"p":"32","c":"o","g":13,"x":18,"y":20}
]
},
"columns": 3,
"spacing": 0,
"concat": [
{"width": 310, "height": 307, "data": {"name": "hist"}, "transform": [{"filter": "datum.v == '1'"}],
 "layer": [
  {"mark": {"type": "area", "interpolate": "step-after", "fillOpacity": 0.3},
   "encoding": {"x": {"field": "b", "type": "quantitative", "scale": {"domain": [-2.5, 52.5]}, "axis": null},
                "y": {"field": "n", "type": "quantitative", "stack": null, "scale": {"domain": [0, 105]}, "axis": null},
                "color": {"field": "c", "type": "nominal", "scale": {"domain": ["b", "o"], "range": ["#1f77b4", "#ff7f0e"]}, "legend": null}}},
  {"mark": {"type": "line", "interpolate": "step-after", "strokeWidth": 1.5},
   "encoding": {"x": {"field": "b", "type": "quantitative", "scale": {"domain": [-2.5, 52.5]}, "axis": null},
                "y": {"field": "n", "type": "quantitative", "stack": null, "scale": {"domain": [0, 105]}, "axis": null},
                "color": {"field": "c", "type": "nominal", "scale": {"domain": ["b", "o"], "range": ["#1f77b4", "#ff7f0e"]}, "legend": null}}}
 ]},
{"width": 310, "height": 307,
 "layer": [
  {"data": {"name": "cont"}, "transform": [{"filter": "datum.p == '12'"}],
   "mark": {"type": "line", "strokeWidth": 2, "opacity": 0.5},
   "encoding": {"x": {"field": "x", "type": "quantitative", "scale": {"domain": [0, 24]}, "axis": null},
                "y": {"field": "y", "type": "quantitative", "scale": {"domain": [0.1, 24.1], "reverse": true}, "axis": null},
                "detail": {"field": "g", "type": "nominal"}, "order": {"value": null},
                "color": {"field": "c", "type": "nominal", "scale": {"domain": ["b", "o"], "range": ["#1f77b4", "#ff7f0e"]}, "legend": null}}},
  {"data": {"name": "peaks"}, "transform": [{"filter": "datum.p == '12'"}],
   "mark": {"type": "point", "shape": "diamond", "filled": true, "size": 680, "opacity": 1, "stroke": "#f6a765", "strokeWidth": 1},
   "encoding": {"x": {"field": "x", "type": "quantitative", "axis": null}, "y": {"field": "y", "type": "quantitative", "axis": null},
                "color": {"field": "k", "type": "nominal", "scale": {"domain": ["dense", "ring"], "range": ["#cf8540", "#bd9a7b"]}, "legend": null}}}
 ], "resolve": {"scale": {"color": "independent"}}},
{"width": 310, "height": 307,
 "layer": [
  {"data": {"name": "cont"}, "transform": [{"filter": "datum.p == '13'"}],
   "mark": {"type": "line", "strokeWidth": 2, "opacity": 0.5},
   "encoding": {"x": {"field": "x", "type": "quantitative", "scale": {"domain": [0, 24]}, "axis": null},
                "y": {"field": "y", "type": "quantitative", "scale": {"domain": [0.1, 24.1], "reverse": true}, "axis": null},
                "detail": {"field": "g", "type": "nominal"}, "order": {"value": null},
                "color": {"field": "c", "type": "nominal", "scale": {"domain": ["b", "o"], "range": ["#1f77b4", "#ff7f0e"]}, "legend": null}}},
  {"data": {"name": "peaks"}, "transform": [{"filter": "datum.p == '13'"}],
   "mark": {"type": "point", "shape": "diamond", "filled": true, "size": 680, "opacity": 1, "stroke": "#f6a765", "strokeWidth": 1},
   "encoding": {"x": {"field": "x", "type": "quantitative", "axis": null}, "y": {"field": "y", "type": "quantitative", "axis": null},
                "color": {"field": "k", "type": "nominal", "scale": {"domain": ["dense", "ring"], "range": ["#cf8540", "#bd9a7b"]}, "legend": null}}},
  {"data": {"name": "rings"}, "transform": [{"filter": "datum.p == '13'"}],
   "mark": {"type": "line", "strokeWidth": 1, "color": "#f6a765", "opacity": 0.9},
   "encoding": {"x": {"field": "x", "type": "quantitative", "axis": null}, "y": {"field": "y", "type": "quantitative", "axis": null},
                "detail": {"field": "g", "type": "nominal"}, "order": {"value": null}}}
 ], "resolve": {"scale": {"color": "independent"}}},
{"width": 310, "height": 308,
 "layer": [
  {"data": {"name": "cont"}, "transform": [{"filter": "datum.p == '21'"}],
   "mark": {"type": "line", "strokeWidth": 2, "opacity": 0.5},
   "encoding": {"x": {"field": "x", "type": "quantitative", "scale": {"domain": [0, 24]}, "axis": null},
                "y": {"field": "y", "type": "quantitative", "scale": {"domain": [0.1, 24.1], "reverse": true}, "axis": null},
                "detail": {"field": "g", "type": "nominal"}, "order": {"value": null},
                "color": {"field": "c", "type": "nominal", "scale": {"domain": ["b", "o"], "range": ["#1f77b4", "#ff7f0e"]}, "legend": null}}},
  {"data": {"name": "peaks"}, "transform": [{"filter": "datum.p == '21'"}],
   "mark": {"type": "point", "shape": "diamond", "filled": true, "size": 680, "opacity": 1, "stroke": "#f6a765", "strokeWidth": 1},
   "encoding": {"x": {"field": "x", "type": "quantitative", "axis": null}, "y": {"field": "y", "type": "quantitative", "axis": null},
                "color": {"field": "k", "type": "nominal", "scale": {"domain": ["dense", "ring"], "range": ["#cf8540", "#bd9a7b"]}, "legend": null}}}
 ], "resolve": {"scale": {"color": "independent"}}},
{"width": 310, "height": 308, "data": {"name": "hist"}, "transform": [{"filter": "datum.v == '2'"}],
 "layer": [
  {"mark": {"type": "area", "interpolate": "step-after", "fillOpacity": 0.3},
   "encoding": {"x": {"field": "b", "type": "quantitative", "scale": {"domain": [-2.5, 52.5]}, "axis": null},
                "y": {"field": "n", "type": "quantitative", "stack": null, "scale": {"domain": [0, 105]}, "axis": null},
                "color": {"field": "c", "type": "nominal", "scale": {"domain": ["b", "o"], "range": ["#1f77b4", "#ff7f0e"]}, "legend": null}}},
  {"mark": {"type": "line", "interpolate": "step-after", "strokeWidth": 1.5},
   "encoding": {"x": {"field": "b", "type": "quantitative", "scale": {"domain": [-2.5, 52.5]}, "axis": null},
                "y": {"field": "n", "type": "quantitative", "stack": null, "scale": {"domain": [0, 105]}, "axis": null},
                "color": {"field": "c", "type": "nominal", "scale": {"domain": ["b", "o"], "range": ["#1f77b4", "#ff7f0e"]}, "legend": null}}}
 ]},
{"width": 310, "height": 308,
 "layer": [
  {"data": {"name": "cont"}, "transform": [{"filter": "datum.p == '23'"}],
   "mark": {"type": "line", "strokeWidth": 2, "opacity": 0.5},
   "encoding": {"x": {"field": "x", "type": "quantitative", "scale": {"domain": [0, 24]}, "axis": null},
                "y": {"field": "y", "type": "quantitative", "scale": {"domain": [0.1, 24.1], "reverse": true}, "axis": null},
                "detail": {"field": "g", "type": "nominal"}, "order": {"value": null},
                "color": {"field": "c", "type": "nominal", "scale": {"domain": ["b", "o"], "range": ["#1f77b4", "#ff7f0e"]}, "legend": null}}},
  {"data": {"name": "peaks"}, "transform": [{"filter": "datum.p == '23'"}],
   "mark": {"type": "point", "shape": "diamond", "filled": true, "size": 680, "opacity": 1, "stroke": "#f6a765", "strokeWidth": 1},
   "encoding": {"x": {"field": "x", "type": "quantitative", "axis": null}, "y": {"field": "y", "type": "quantitative", "axis": null},
                "color": {"field": "k", "type": "nominal", "scale": {"domain": ["dense", "ring"], "range": ["#cf8540", "#bd9a7b"]}, "legend": null}}},
  {"data": {"name": "rings"}, "transform": [{"filter": "datum.p == '23'"}],
   "mark": {"type": "line", "strokeWidth": 1, "color": "#f6a765", "opacity": 0.9},
   "encoding": {"x": {"field": "x", "type": "quantitative", "axis": null}, "y": {"field": "y", "type": "quantitative", "axis": null},
                "detail": {"field": "g", "type": "nominal"}, "order": {"value": null}}}
 ], "resolve": {"scale": {"color": "independent"}}},
{"width": 310, "height": 308,
 "layer": [
  {"data": {"name": "cont"}, "transform": [{"filter": "datum.p == '31'"}],
   "mark": {"type": "line", "strokeWidth": 2, "opacity": 0.5},
   "encoding": {"x": {"field": "x", "type": "quantitative", "scale": {"domain": [0, 24]}, "axis": null},
                "y": {"field": "y", "type": "quantitative", "scale": {"domain": [0.1, 24.1], "reverse": true}, "axis": null},
                "detail": {"field": "g", "type": "nominal"}, "order": {"value": null},
                "color": {"field": "c", "type": "nominal", "scale": {"domain": ["b", "o"], "range": ["#1f77b4", "#ff7f0e"]}, "legend": null}}},
  {"data": {"name": "peaks"}, "transform": [{"filter": "datum.p == '31'"}],
   "mark": {"type": "point", "shape": "diamond", "filled": true, "size": 680, "opacity": 1, "stroke": "#f6a765", "strokeWidth": 1},
   "encoding": {"x": {"field": "x", "type": "quantitative", "axis": null}, "y": {"field": "y", "type": "quantitative", "axis": null},
                "color": {"field": "k", "type": "nominal", "scale": {"domain": ["dense", "ring"], "range": ["#cf8540", "#bd9a7b"]}, "legend": null}}},
  {"data": {"name": "rings"}, "transform": [{"filter": "datum.p == '31'"}],
   "mark": {"type": "line", "strokeWidth": 1, "color": "#f6a765", "opacity": 0.9},
   "encoding": {"x": {"field": "x", "type": "quantitative", "axis": null}, "y": {"field": "y", "type": "quantitative", "axis": null},
                "detail": {"field": "g", "type": "nominal"}, "order": {"value": null}}}
 ], "resolve": {"scale": {"color": "independent"}}},
{"width": 310, "height": 308,
 "layer": [
  {"data": {"name": "cont"}, "transform": [{"filter": "datum.p == '32'"}],
   "mark": {"type": "line", "strokeWidth": 2, "opacity": 0.5},
   "encoding": {"x": {"field": "x", "type": "quantitative", "scale": {"domain": [0, 24]}, "axis": null},
                "y": {"field": "y", "type": "quantitative", "scale": {"domain": [0.1, 24.1], "reverse": true}, "axis": null},
                "detail": {"field": "g", "type": "nominal"}, "order": {"value": null},
                "color": {"field": "c", "type": "nominal", "scale": {"domain": ["b", "o"], "range": ["#1f77b4", "#ff7f0e"]}, "legend": null}}},
  {"data": {"name": "peaks"}, "transform": [{"filter": "datum.p == '32'"}],
   "mark": {"type": "point", "shape": "diamond", "filled": true, "size": 680, "opacity": 1, "stroke": "#f6a765", "strokeWidth": 1},
   "encoding": {"x": {"field": "x", "type": "quantitative", "axis": null}, "y": {"field": "y", "type": "quantitative", "axis": null},
                "color": {"field": "k", "type": "nominal", "scale": {"domain": ["dense", "ring"], "range": ["#cf8540", "#bd9a7b"]}, "legend": null}}},
  {"data": {"name": "rings"}, "transform": [{"filter": "datum.p == '32'"}],
   "mark": {"type": "line", "strokeWidth": 1, "color": "#f6a765", "opacity": 0.9},
   "encoding": {"x": {"field": "x", "type": "quantitative", "axis": null}, "y": {"field": "y", "type": "quantitative", "axis": null},
                "detail": {"field": "g", "type": "nominal"}, "order": {"value": null}}}
 ], "resolve": {"scale": {"color": "independent"}}},
{"width": 310, "height": 308, "data": {"name": "hist"}, "transform": [{"filter": "datum.v == '3'"}],
 "layer": [
  {"mark": {"type": "area", "interpolate": "step-after", "fillOpacity": 0.3},
   "encoding": {"x": {"field": "b", "type": "quantitative", "scale": {"domain": [-2.5, 52.5]}, "axis": null},
                "y": {"field": "n", "type": "quantitative", "stack": null, "scale": {"domain": [0, 105]}, "axis": null},
                "color": {"field": "c", "type": "nominal", "scale": {"domain": ["b", "o"], "range": ["#1f77b4", "#ff7f0e"]}, "legend": null}}},
  {"mark": {"type": "line", "interpolate": "step-after", "strokeWidth": 1.5},
   "encoding": {"x": {"field": "b", "type": "quantitative", "scale": {"domain": [-2.5, 52.5]}, "axis": null},
                "y": {"field": "n", "type": "quantitative", "stack": null, "scale": {"domain": [0, 105]}, "axis": null},
                "color": {"field": "c", "type": "nominal", "scale": {"domain": ["b", "o"], "range": ["#1f77b4", "#ff7f0e"]}, "legend": null}}}
 ]}
]
}
